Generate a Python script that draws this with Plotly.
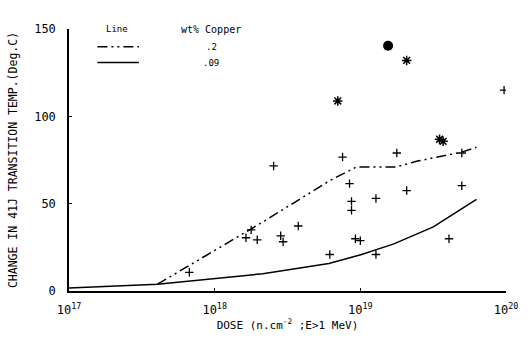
import plotly.graph_objects as go

# Measured transition-temperature shifts (deg C) against fast-neutron dose (n/cm^2)
plus_dose = [6.7e17, 1.64e18, 1.78e18, 1.96e18, 2.54e18, 2.84e18, 2.95e18, 3.75e18,
             6.17e18, 7.55e18, 8.43e18, 8.7e18, 8.7e18, 9.25e18, 1.0e19, 1.28e19,
             1.28e19, 1.78e19, 2.08e19, 4.06e19, 4.97e19, 4.97e19, 9.7e19]
plus_shift = [10.7, 30.5, 35.0, 29.3, 71.6, 31.6, 28.2, 37.2,
              20.9, 76.7, 61.5, 51.3, 46.2, 29.9, 28.8, 53.0,
              20.9, 79.0, 57.5, 29.9, 79.0, 60.3, 115.0]

star_dose = [7.0e18, 2.08e19, 3.5e19, 3.7e19]
star_shift = [108.8, 132.0, 86.9, 85.7]

dot_dose = [1.55e19]
dot_shift = [140.4]

# Trend curves for two copper contents
cu20_dose = [1e17, 4.05e17, 2.14e18, 6.17e18, 9.4e18, 1.75e19, 2.47e19, 4.97e19, 6.27e19]
cu20_shift = [1.7, 3.9, 39.5, 63.2, 71.0, 71.0, 74.4, 79.5, 82.3]
cu09_dose = [1e17, 4.05e17, 2.14e18, 6.08e18, 1.02e19, 1.7e19, 3.17e19, 6.27e19]
cu09_shift = [1.7, 3.9, 9.9, 15.8, 20.9, 27.0, 36.7, 52.5]

x_ticks = [1e17, 1e18, 1e19, 1e20]
x_ticktext = ["10<sup>17</sup>", "10<sup>18</sup>", "10<sup>19</sup>", "10<sup>20</sup>"]
y_ticks = [0, 50, 100, 150]

legend_rows = [".2", ".09"]
dashdot = "10px,4px,2px,4px,2px,4px"

FONT = "DejaVu Sans Mono"

fig = go.Figure()
fig.add_trace(go.Scatter(x=cu20_dose[1:], y=cu20_shift[1:], mode="lines",
                         line=dict(color="black", width=1.5, dash=dashdot)))
fig.add_trace(go.Scatter(x=cu09_dose, y=cu09_shift, mode="lines",
                         line=dict(color="black", width=1.5)))
fig.add_trace(go.Scatter(x=plus_dose, y=plus_shift, mode="markers",
                         marker=dict(symbol="cross-thin", size=6,
                                     line=dict(color="black", width=1.3))))
fig.add_trace(go.Scatter(x=star_dose, y=star_shift, mode="markers",
                         marker=dict(symbol="asterisk", size=8,
                                     line=dict(color="black", width=1.5))))
fig.add_trace(go.Scatter(x=dot_dose, y=dot_shift, mode="markers",
                         marker=dict(symbol="circle", size=10, color="black")))

# Key drawn in the top-left corner of the plot area
fig.add_annotation(text="Line", x=0.11, y=1.0, xref="paper", yref="paper",
                   showarrow=False, xanchor="center", yanchor="middle",
                   font=dict(family=FONT, size=9, color="black"))
fig.add_annotation(text="wt% Copper", x=0.325, y=1.0, xref="paper", yref="paper",
                   showarrow=False, xanchor="center", yanchor="middle",
                   font=dict(family=FONT, size=10, color="black"))
row_y = [0.932, 0.872]
for label, ry, dash in zip(legend_rows, row_y, [dashdot, "solid"]):
    fig.add_shape(type="line", xref="paper", yref="paper",
                  x0=0.065, x1=0.16, y0=ry, y1=ry,
                  line=dict(color="black", width=1.5, dash=dash))
    fig.add_annotation(text=label, x=0.325, y=ry, xref="paper", yref="paper",
                       showarrow=False, xanchor="center", yanchor="middle",
                       font=dict(family=FONT, size=9, color="black"))

fig.update_layout(
    width=530, height=338,
    margin=dict(l=68, r=18, t=29, b=43),
    paper_bgcolor="white", plot_bgcolor="white",
    showlegend=False,
    font=dict(family=FONT, size=11, color="black"),
)
fig.update_xaxes(type="log", range=[17, 20], tickvals=x_ticks, ticktext=x_ticktext,
                 showgrid=False, zeroline=False, showline=True, linecolor="black",
                 linewidth=1.5, ticks="inside", ticklen=3, tickcolor="black",
                 ticklabelstandoff=7,
                 tickfont=dict(family=FONT, size=12),
                 title=dict(text="DOSE (n.cm<sup>-2</sup> ;E>1 MeV)",
                            font=dict(family=FONT, size=11), standoff=1))
fig.update_yaxes(range=[0, 150], tickvals=y_ticks, showgrid=False, zeroline=False,
                 showline=True, linecolor="black", linewidth=1.5, ticks="inside",
                 ticklen=3, tickcolor="black", ticklabelstandoff=9,
                 tickfont=dict(family=FONT, size=12),
                 title=dict(text="CHANGE IN 41J TRANSITION TEMP.(Deg.C)",
                            font=dict(family=FONT, size=11.5), standoff=14))

fig.write_html("out.html")
